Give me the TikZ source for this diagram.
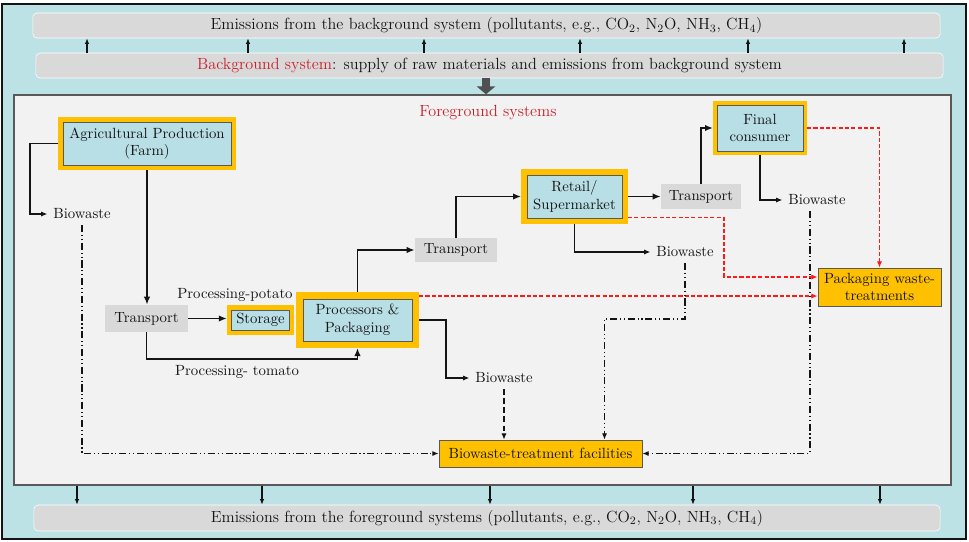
\documentclass[tikz,border=0pt]{standalone}
\usetikzlibrary{arrows.meta,positioning}
\definecolor{Frame}{HTML}{BCE2E5}
\definecolor{Panel}{HTML}{F2F2F2}
\definecolor{BarGray}{HTML}{D9D9D9}
\definecolor{BoxBlue}{HTML}{B9DFE6}
\definecolor{Gold}{HTML}{FFC000}
\definecolor{DarkText}{HTML}{141414}
\definecolor{Edge}{HTML}{595959}
\definecolor{TitleRed}{HTML}{C8202A}
\definecolor{DashRed}{HTML}{FF1A1A}
\tikzset{
  bar/.style={rounded corners=3pt, fill=BarGray, draw=white, inner sep=1pt, font=\fontsize{11.5}{13}\selectfont},
  stagebox/.style={draw=Edge, fill=BoxBlue, align=center, inner sep=1pt},
  yframe/.style={preaction={draw=Gold, line width=2*#1}, outer sep=#1},
  transbox/.style={fill=BarGray, inner sep=1pt},
  treatbox/.style={draw=Edge, fill=Gold, align=center, inner sep=1pt},
  wastelabel/.style={inner sep=4pt},
  arr/.style={-{Latex[length=2mm,width=1.6mm]}, line width=1.3pt, draw=DarkText},
  warr/.style={-{Latex[length=1.6mm,width=1.3mm]}, line width=0.9pt, draw=DarkText},
  emarr/.style={-{Latex[length=1.4mm,width=1.1mm]}, line width=0.75pt, draw=DarkText},
  redarr/.style={-{Latex[length=1.6mm,width=1.3mm]}, line width=1pt, draw=DashRed, dash pattern=on 3pt off 1.5pt},
  dotarr/.style={-{Latex[length=1.6mm,width=1.3mm]}, line width=0.9pt, draw=DarkText, dash pattern=on 5pt off 2pt on 0.8pt off 2pt on 0.8pt off 2pt},
  dasharr/.style={-{Latex[length=1.6mm,width=1.3mm]}, line width=0.9pt, draw=DarkText, dash pattern=on 4pt off 2.5pt}
}

\begin{document}
\begin{tikzpicture}[x=0.025cm, y=-0.025cm, font=\fontsize{10.5}{12.5}\selectfont, text=DarkText]
\useasboundingbox (0,0) rectangle (969,541);
% outer frame
\draw[fill=Frame, draw=DarkText, line width=1.2pt] (2,4) rectangle (966,539);

% background system
\node[bar, minimum width=22.675cm, minimum height=0.625cm] (bgem) at (486.5,25.5)
  {Emissions from the background system (pollutants, e.g., CO$_2$, N$_2$O, NH$_3$, CH$_4$)};
\node[bar, minimum width=22.675cm, minimum height=0.625cm] (bg) at (489.5,65.5)
  {{\color{TitleRed}Background system}: supply of raw materials and emissions from background system};
\foreach \x in {87,248,424,580,748,904}
  \draw[emarr] (\x,0 |- bg.north) -- (\x,0 |- bgem.south);

% foreground panel
\node[draw=Edge, fill=Panel, line width=0.9pt, minimum width=23.425cm, minimum height=9.75cm] (fg) at (482.5,290) {};
\draw[-{Triangle[length=2mm,width=4.6mm]}, line width=5.5pt, draw=Edge!90!black] (486,0 |- bg.south) -- (486,0 |- fg.north);
\node[text=TitleRed, font=\fontsize{11.5}{13}\selectfont] (fgtitle) at (488,113) {Foreground systems};

% stages
\node[stagebox, yframe=3.5pt, minimum width=4.2cm, minimum height=1.075cm] (farm) at (147,143.5)
  {Agricultural Production\\(Farm)};
\node[transbox, minimum width=2.075cm, minimum height=0.675cm] (tr1) at (146.5,318.5) {Transport};
\node[stagebox, yframe=3.3pt, minimum width=1.45cm, minimum height=0.5cm] (store) at (260.5,320) {Storage};
\node[stagebox, yframe=5pt, minimum width=2.725cm, minimum height=1.05cm] (proc) at (357.5,320)
  {Processors \&\\Packaging};
\node[transbox, minimum width=2.05cm, minimum height=0.6cm] (tr2) at (456,250) {Transport};
\node[stagebox, yframe=4.2pt, minimum width=2.375cm, minimum height=1.075cm] (retail) at (574.5,196.5)
  {Retail/\\Supermarket};
\node[transbox, minimum width=2cm, minimum height=0.625cm] (tr3) at (701,196.5) {Transport};
\node[stagebox, yframe=2.8pt, minimum width=2.15cm, minimum height=1.15cm] (cons) at (760,128)
  {Final\\consumer};

% waste
\node[wastelabel] (bw1) at (82,214) {Biowaste};
\node[wastelabel] (bw2) at (504,378) {Biowaste};
\node[wastelabel] (bw3) at (685,252) {Biowaste};
\node[wastelabel] (bw4) at (817,200) {Biowaste};
\node[treatbox, minimum width=3.075cm, minimum height=0.95cm] (pwt) at (879.5,287)
  {Packaging waste-\\treatments};
\node[treatbox, minimum width=5.075cm, minimum height=0.675cm] (bwt) at (540.5,453.5)
  {Biowaste-treatment facilities};

% flow labels
\node (potato) at (235,295) {Processing-potato};
\node (tomato) at (237,372) {Processing- tomato};

% main flow
\draw[arr] (farm.south) -- (farm.south |- tr1.north);
\draw[arr] (tr1.east) -- (tr1.east -| store.west);
\draw[arr] (tr1.south) -- ++(0,27) -| (proc.south);
\draw[arr] (proc.north) |- (tr2.west);
\draw[arr] (tr2.north) |- (retail.west);
\draw[arr] (retail.east) -- (tr3.west);
\draw[arr] (tr3.north) |- (cons.west);

% biowaste outputs
\draw[warr] (farm.west) -- ++(-28,0) |- (bw1.west);
\draw[warr] (proc.east) -- ++(27,0) |- (bw2.west);
\draw[warr] (retail.south) |- (bw3.west);
\draw[warr] (cons.south) |- (bw4.west);

% packaging waste
\coordinate (pwin1) at ([yshift=0.25cm]pwt.west);
\coordinate (pwin2) at ([yshift=-0.225cm]pwt.west);
\draw[redarr] (cons.east) -| (pwt.north);
\draw[redarr] ([yshift=-0.525cm]retail.east) -- ++(96,0) |- (pwin1);
\draw[redarr] (proc.east |- pwin2) -- (pwin2);

% biowaste treatment
\draw[dotarr] (bw1.south) |- (bwt.west);
\draw[dasharr] (bw2.south) -- (bw2.south |- bwt.north);
\draw[dotarr] (bw3.south) -- ++(0,56) -| ([xshift=1.6cm]bwt.north);
\draw[dotarr] ([xshift=-0.175cm]bw4.south) |- (bwt.east);

% foreground emissions
\node[bar, minimum width=22.65cm, minimum height=0.65cm] (fgem) at (487,518)
  {Emissions from the foreground systems (pollutants, e.g., CO$_2$, N$_2$O, NH$_3$, CH$_4$)};
\foreach \x in {77,262,490,693,880}
  \draw[emarr] (\x,0 |- fg.south) -- (\x,0 |- fgem.north);
\end{tikzpicture}
\end{document}
